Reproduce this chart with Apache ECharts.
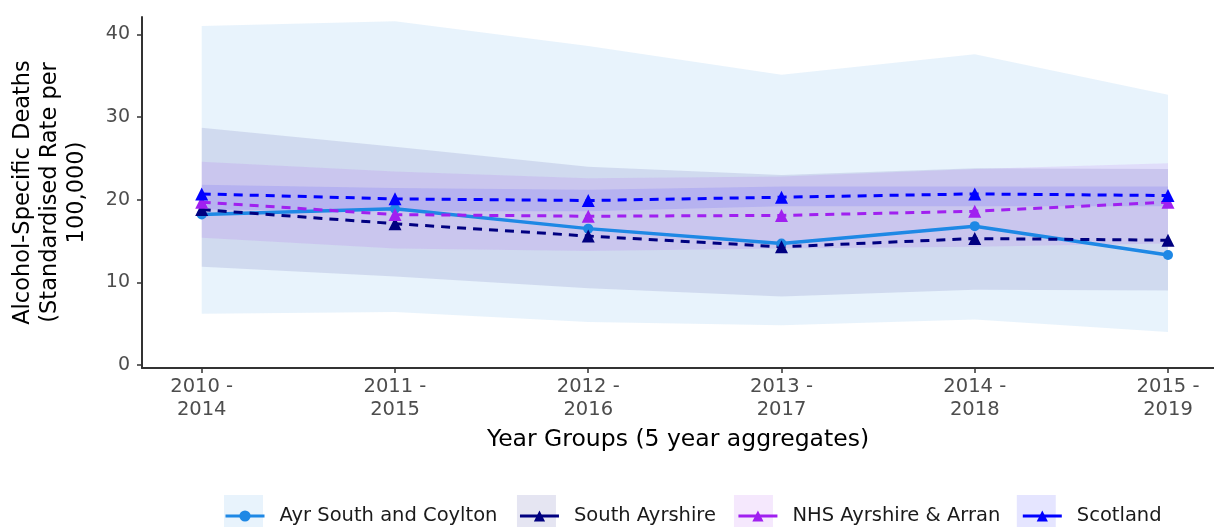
<!DOCTYPE html>
<html>
<head>
<meta charset="utf-8">
<script src="https://cdn.jsdelivr.net/npm/echarts@6/dist/echarts.min.js"></script>
<style>
  html, body { margin: 0; padding: 0; background: #fff; }
  #chart { width: 1214px; height: 527px; }
</style>
</head>
<body>
<div id="chart"></div>
<script>
// year groups on the x axis
const categories = ['2010 - 2014', '2011 - 2015', '2012 - 2016', '2013 - 2017', '2014 - 2018', '2015 - 2019'];

// Ayr South and Coylton
const ayr = [18.2, 18.9, 16.5, 14.7, 16.8, 13.3];
const ayrLower = [6.2, 6.4, 5.2, 4.8, 5.5, 4.0];
const ayrUpper = [41.0, 41.6, 38.6, 35.1, 37.6, 32.7];

// South Ayrshire
const southAyrshire = [18.8, 17.1, 15.6, 14.3, 15.3, 15.1];
const southAyrshireLower = [11.9, 10.7, 9.3, 8.3, 9.1, 9.0];
const southAyrshireUpper = [28.7, 26.4, 24.0, 23.0, 23.8, 23.7];

// NHS Ayrshire & Arran
const nhs = [19.7, 18.2, 18.0, 18.1, 18.6, 19.7];
const nhsLower = [15.4, 14.1, 13.8, 14.1, 14.3, 14.7];
const nhsUpper = [24.6, 23.4, 22.6, 22.8, 23.7, 24.4];

// Scotland
const scotland = [20.7, 20.1, 19.9, 20.3, 20.7, 20.5];
const scotlandLower = [18.8, 18.6, 18.6, 19.2, 19.2, 19.2];
const scotlandUpper = [21.8, 21.4, 21.2, 21.6, 21.6, 21.6];

const yTicks = [0, 10, 20, 30, 40];
const xTicks = [0, 1, 2, 3, 4, 5];

const font = 'DejaVu Sans, sans-serif';
const chart = echarts.init(document.getElementById('chart'));

// confidence band drawn as one polygon through the axes
const band = (name, lower, upper, fill) => ({
  name: name + ' CI',
  type: 'custom',
  z: 1,
  silent: true,
  itemStyle: { color: fill },
  data: categories.map((c, i) => [i, lower[i], upper[i]]),
  encode: { x: 0, y: [1, 2] },
  renderItem: (params, api) => {
    if (params.dataIndex !== 0) return;
    const top = upper.map((v, i) => api.coord([i, v]));
    const bottom = lower.map((v, i) => api.coord([i, v])).reverse();
    return {
      type: 'polygon',
      shape: { points: top.concat(bottom) },
      style: { fill: fill }
    };
  }
});

const line = (name, values, color, dashed, symbol, size) => ({
  name: name,
  type: 'line',
  z: 3,
  data: values.map((v, i) => [i, v]),
  symbol: symbol,
  symbolSize: size,
  itemStyle: { color: color },
  lineStyle: { color: color, width: dashed ? 3 : 3.5, type: dashed ? [9, 7] : 'solid' }
});

const names = ['Ayr South and Coylton', 'South Ayrshire', 'NHS Ayrshire & Arran', 'Scotland'];

// two legends on top of each other: shaded key boxes, then line keys with text
const legendBase = {
  orient: 'horizontal',
  left: 224,
  padding: 0,
  itemWidth: 39,
  itemGap: 21,
  textStyle: { fontFamily: font, fontSize: 19.5, padding: [0, 0, 0, 10] },
  selectedMode: false
};

const option = {
  animation: false,
  grid: { left: 142, right: 0, top: 17, bottom: 159, containLabel: false },
  legend: [
    Object.assign({}, legendBase, {
      top: 495,
      itemHeight: 36,
      data: names.map(n => ({ name: n + ' CI', icon: 'rect' })),
      formatter: n => n.replace(' CI', ''),
      textStyle: Object.assign({}, legendBase.textStyle, { color: 'rgba(0,0,0,0)' })
    }),
    Object.assign({}, legendBase, {
      top: 506,
      itemHeight: 14,
      data: names,
      lineStyle: { type: 'solid', width: 3 },
      textStyle: Object.assign({}, legendBase.textStyle, { color: '#1a1a1a' })
    })
  ],
  xAxis: {
    type: 'value',
    min: -0.309,
    max: 5.238,
    name: 'Year Groups (5 year aggregates)',
    nameLocation: 'middle',
    nameGap: 58,
    nameTextStyle: { fontFamily: font, fontSize: 23.5, color: '#000', lineHeight: 28 },
    splitLine: { show: false },
    axisLine: { onZero: false, lineStyle: { color: '#333', width: 2 } },
    axisTick: { customValues: xTicks, length: 5, lineStyle: { color: '#333', width: 1.5 } },
    axisLabel: {
      customValues: xTicks,
      formatter: v => categories[Math.round(v)].replace(' - ', ' -\n'),
      fontFamily: font,
      fontSize: 19.5,
      lineHeight: 23,
      color: '#4d4d4d',
      margin: 7
    }
  },
  yAxis: {
    type: 'value',
    min: -0.36,
    max: 42.1,
    name: 'Alcohol-Specific Deaths\n(Standardised Rate per\n100,000)',
    nameLocation: 'middle',
    nameGap: 51,
    nameTextStyle: { fontFamily: font, fontSize: 22.5, color: '#000', lineHeight: 27, align: 'center' },
    splitLine: { show: false },
    axisLine: { show: true, onZero: false, lineStyle: { color: '#333', width: 2 } },
    axisTick: { show: true, customValues: yTicks, length: 5, lineStyle: { color: '#333', width: 1.5 } },
    axisLabel: {
      customValues: yTicks,
      fontFamily: font,
      fontSize: 19,
      color: '#4d4d4d',
      margin: 12
    }
  },
  series: [
    band('Ayr South and Coylton', ayrLower, ayrUpper, 'rgba(30,136,229,0.1)'),
    band('South Ayrshire', southAyrshireLower, southAyrshireUpper, 'rgba(0,0,128,0.1)'),
    band('NHS Ayrshire & Arran', nhsLower, nhsUpper, 'rgba(160,32,240,0.1)'),
    band('Scotland', scotlandLower, scotlandUpper, 'rgba(0,0,255,0.1)'),
    line('Ayr South and Coylton', ayr, '#1e88e5', false, 'circle', 10),
    line('South Ayrshire', southAyrshire, '#000080', true, 'triangle', 13),
    line('NHS Ayrshire & Arran', nhs, '#a020f0', true, 'triangle', 13),
    line('Scotland', scotland, '#0000ff', true, 'triangle', 13)
  ]
};

chart.setOption(option);
</script>
</body>
</html>
